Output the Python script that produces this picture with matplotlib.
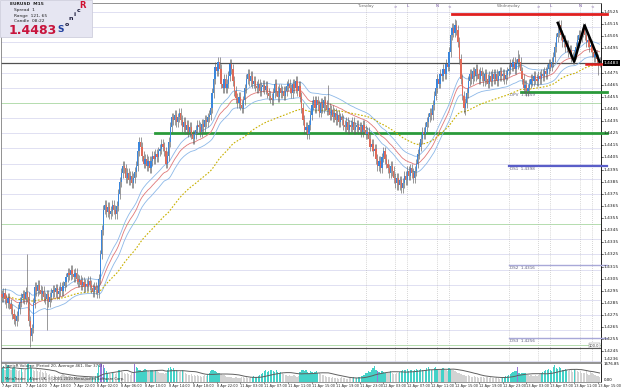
import matplotlib
matplotlib.use("Agg")
import matplotlib.pyplot as plt
import numpy as np
import pandas as pd

# EURUSD M15 - closes in pips above 1.4000
closes = [
    290, 293, 288, 285, 289, 284, 280, 276, 272, 270,
    274, 280, 286, 289, 292, 288, 294, 290, 270, 258,
    264, 285, 298, 295, 300, 296, 292, 295, 290, 288,
    292, 286, 290, 293, 296, 294, 297, 292, 295, 298,
    295, 299, 302, 306, 310, 308, 312, 309, 306, 310,
    305, 302, 304, 300, 302, 298, 301, 299, 303, 300,
    297, 294, 298, 296, 293, 305, 325, 345, 362, 366,
    360, 364, 358, 361, 366, 362, 358, 365, 375, 385,
    392, 398, 396, 388, 392, 386, 390, 384, 388, 393,
    398, 410, 418, 414, 406, 400, 404, 398, 402, 396,
    402, 406, 404, 408, 405, 410, 412, 416, 414, 410,
    400, 406, 418, 430, 438, 436, 440, 434, 438, 442,
    436, 430, 434, 428, 432, 426, 430, 424, 420, 424,
    428, 432, 430, 426, 433, 430, 436, 434, 438, 440,
    446, 458, 470, 480, 476, 484, 478, 466, 462, 470,
    462, 466, 472, 482, 478, 468, 460, 454, 450, 455,
    448, 446, 452, 462, 470, 474, 468, 472, 466, 468,
    464, 462, 466, 460, 463, 465, 461, 464, 458, 456,
    454, 452, 458, 466, 460, 455, 462, 458, 460, 456,
    460, 464, 466, 462, 458, 466, 462, 468, 460, 464,
    455, 446, 436, 428, 430, 424, 432, 440, 448, 452,
    446, 452, 448, 442, 450, 446, 452, 448, 444, 446,
    440, 444, 438, 442, 436, 440, 434, 438, 436, 432,
    430, 434, 428, 432, 430, 434, 428, 430, 432, 428,
    430, 426, 432, 428, 424, 426, 420, 414, 416, 410,
    412, 404, 398, 402, 396, 405, 410, 404, 400, 396,
    392, 398, 394, 388, 384, 388, 382, 386, 380, 384,
    390, 386, 394, 390, 396, 392, 388, 394, 400, 408,
    414, 420, 426, 424, 430, 434, 438, 442, 440, 448,
    456, 462, 470, 466, 474, 472, 478, 474, 482, 480,
    492, 506, 512, 508, 514, 510, 500, 486, 470, 456,
    446, 450, 458, 468, 474, 470, 476, 472, 478, 474,
    470, 476, 472, 468, 474, 470, 466, 472, 468, 474,
    470, 474, 468, 472, 476, 472, 474, 470, 473, 476,
    478, 482, 480, 484, 478, 482, 486, 484, 476, 470,
    462, 465, 460, 462, 466, 470, 468, 472, 470, 468,
    472, 470, 474, 472, 476, 474, 478, 482, 480, 484,
    488, 496, 504, 508, 514, 506, 500, 502, 496, 498,
    492, 494, 488, 486, 490, 496, 502, 506, 504, 508,
    512, 506, 500, 502, 496, 498, 492, 488, 490, 486,
    484, 483.8,
]
first_open = 292
spike_highs = {17: 325, 145: 487, 153: 485, 219: 465, 304: 519, 346: 494, 373: 517, 390: 514}
spike_lows = {19: 249, 30: 263, 110: 398, 128: 416, 205: 421, 265: 378, 311: 440, 352: 458, 382: 484, 400: 473}

volumes = [
    900, 1050, 820, 960, 1100, 880, 760, 940, 1000, 860,
    780, 700, 820, 900, 640, 760, 850, 1200, 1500, 1100,
    950, 800, 720, 860, 700, 640, 760, 680, 600, 720,
    560, 480, 520, 420, 380, 450, 400, 360, 420, 380,
    460, 520, 480, 400, 360, 420, 380, 320, 350, 300,
    280, 320, 260, 300, 340, 280, 250, 300, 270, 320,
    300, 350, 280, 420, 600, 1100, 1400, 1300, 1150, 900,
    700, 620, 560, 500, 640, 580, 520, 600, 760, 820,
    700, 640, 580, 520, 600, 540, 480, 560, 620, 1200,
    1000, 900, 820, 760, 700, 820, 880, 760, 700, 640,
    820, 760, 700, 800, 740, 680, 620, 560, 600, 540,
    600, 820, 950, 1000, 880, 900, 820, 760, 700, 640,
    720, 800, 700, 560, 520, 480, 440, 500, 420, 460,
    400, 440, 380, 420, 360, 400, 460, 380, 520, 600,
    720, 800, 760, 700, 640, 600, 560, 520, 480, 440,
    400, 360, 320, 300, 340, 280, 260, 300, 240, 280,
    260, 300, 340, 280, 320, 260, 240, 300, 340, 380,
    320, 360, 400, 440, 500, 620, 700, 760, 640, 700,
    760, 820, 700, 640, 760, 680, 600, 640, 560, 520,
    480, 440, 400, 460, 420, 380, 440, 400, 360, 420,
    640, 760, 820, 700, 760, 680, 620, 700, 640, 600,
    660, 700, 620, 580, 520, 480, 440, 400, 360, 320,
    300, 280, 320, 260, 240, 280, 220, 260, 300, 240,
    260, 220, 200, 240, 280, 260, 300, 240, 280, 320,
    340, 380, 420, 480, 560, 620, 700, 640, 760, 900,
    1050, 760, 700, 640, 600, 720, 680, 620, 560, 600,
    640, 700, 580, 540, 500, 620, 560, 680, 720, 760,
    800, 760, 840, 720, 800, 760, 700, 820, 880, 760,
    800, 860, 760, 700, 820, 900, 960, 880, 820, 760,
    900, 960, 860, 820, 760, 880, 920, 840, 780, 700,
    940, 880, 820, 760, 700, 640, 600, 560, 520, 480,
    460, 420, 380, 440, 400, 360, 320, 380, 340, 300,
    280, 320, 360, 300, 260, 340, 300, 280, 320, 260,
    240, 280, 300, 260, 220, 280, 300, 340, 380, 420,
    460, 520, 600, 640, 700, 740, 1000, 600, 520, 580,
    620, 560, 480, 440, 400, 460, 420, 380, 440, 400,
    460, 520, 580, 640, 720, 760, 820, 880, 760, 700,
    960, 1100, 900, 860, 1000, 900, 820, 760, 880, 800,
    720, 800, 760, 680, 880, 760, 700, 640, 720, 600,
    560, 620, 700, 520, 480, 640, 560, 500, 460, 420,
    380, 300,
]
climax_bars = [66, 67, 68, 89, 252, 346]

time_labels = [
    "7 Apr 2011", "7 Apr 14:00", "7 Apr 18:00", "7 Apr 22:00", "8 Apr 02:00",
    "8 Apr 06:00", "8 Apr 10:00", "8 Apr 14:00", "8 Apr 18:00", "8 Apr 22:00",
    "11 Apr 03:00", "11 Apr 07:00", "11 Apr 11:00", "11 Apr 15:00", "11 Apr 19:00",
    "11 Apr 23:00", "12 Apr 03:00", "12 Apr 07:00", "12 Apr 11:00", "12 Apr 15:00",
    "12 Apr 19:00", "12 Apr 23:00", "13 Apr 03:00", "13 Apr 07:00", "13 Apr 11:00",
    "13 Apr 15:00",
]
bars_per_label = 16

# day separators and session marks (bar index, text)
day_starts = [(244, "Tuesday"), (340, "Wednesday")]
session_marks = [(20, ">"), (28, "L"), (48, "N"), (56, "<")]

# levels
bid_price = 1.4483
yesterday_high = 1.4523
pivot_levels = [("DPV", 1.4459, "#2a9a3a", 2.0, 348), ("DS1", 1.4398, "#5a5ec8", 1.6, 340),
                ("DS2", 1.4316, "#a8a8d8", 1.0, 340), ("DS3", 1.4256, "#a8a8d8", 1.0, 340)]
pivot_label_bar = 340
murrey_base = 1.4250
murrey_step = 0.00125
green_level = 1.4425
green_start = 103

W, H = 625, 391


def fig_xy(x, y):
    return x / W, 1 - y / H


def desenhar():
    fig = plt.figure(figsize=(W / 100, H / 100), dpi=100)
    fig.patch.set_facecolor("white")

    ax = fig.add_axes([1 / W, 29 / H, 600 / W, 359 / H])
    axv = fig.add_axes([1 / W, 9 / H, 600 / W, 19 / H])

    n = len(closes)
    idx = np.arange(n)
    c = 1.4 + np.array(closes) / 10000.0
    o = np.concatenate([[1.4 + first_open / 10000.0], c[:-1]])
    wick = 0.0004
    hi = np.maximum(o, c) + wick
    lo = np.minimum(o, c) - wick
    for k, v in spike_highs.items():
        hi[k] = max(hi[k], 1.4 + v / 10000.0)
    for k, v in spike_lows.items():
        lo[k] = min(lo[k], 1.4 + v / 10000.0)

    ymin, ymax = 1.42363, 1.45324
    ax.set_xlim(-0.67, 402)
    ax.set_ylim(ymin, ymax)

    # Murrey math lines
    k = -1
    while True:
        lvl = murrey_base + k * murrey_step
        if lvl > ymax:
            break
        col = "#b4dcae" if k % 8 == 0 else "#e0e0f2"
        ax.axhline(lvl, color=col, lw=0.7, zorder=1)
        k += 1

    # day separators + session lines
    for d, name in day_starts:
        ax.axvline(d, color="#b0b0b0", lw=0.5, ls=(0, (1, 2)), zorder=1)
        x, y = fig_xy(2 + 1.49 * d, 6)
        fig.text(x, y, name, fontsize=3.0, color="#707070", ha="center", va="center")
        for off, m in session_marks:
            ax.axvline(d + off, color="#b0b0b0", lw=0.5, ls=(0, (1, 2)), zorder=1)
            x, y = fig_xy(2 + 1.49 * (d + off), 6)
            fig.text(x, y, m, fontsize=3.0, color="#7050a0", ha="center", va="center")

    ax.plot([green_start, 406], [green_level] * 2, color="#2a9a3a", lw=2.0, zorder=3, clip_on=False)
    ax.plot([302, 406], [yesterday_high] * 2, color="#e02020", lw=2.0, zorder=3, clip_on=False)
    ax.axhline(1.4248, color="#505050", lw=0.8, zorder=2)
    ax.axhline(bid_price, color="#505050", lw=0.9, zorder=2)
    ax.plot([392, 406], [bid_price - 0.00005] * 2, color="#e02020", lw=1.8, zorder=6, clip_on=False)

    for name, lvl, col, lw, start in pivot_levels:
        ax.plot([start, 406], [lvl] * 2, color=col, lw=lw, zorder=3, clip_on=False)
        ax.text(pivot_label_bar + 1, lvl - 0.00007, f"{name}  {lvl:.4f}", fontsize=3.0,
                color="#606080", va="top", ha="left", zorder=4)

    # Sonic R dragon and trend
    s = pd.Series(c)
    ema_h = pd.Series(hi).ewm(span=34, adjust=False).mean()
    ema_l = pd.Series(lo).ewm(span=34, adjust=False).mean()
    ema_c = s.ewm(span=34, adjust=False).mean()
    ema_t = s.ewm(span=89, adjust=False).mean()
    ax.plot(idx, ema_h, color="#8cb8e8", lw=0.6, zorder=4)
    ax.plot(idx, ema_l, color="#8cb8e8", lw=0.6, zorder=4)
    ax.plot(idx, ema_c, color="#e07878", lw=0.6, zorder=4)
    ax.plot(idx, ema_t, color="#c8b000", lw=0.8, ls=(0, (1.5, 1.5)), zorder=4)

    # candles
    up = c >= o
    ax.vlines(idx, lo, hi, color="#606060", lw=0.45, zorder=5)
    body = np.maximum(np.abs(c - o), 0.00004)
    ax.bar(idx[up], body[up], bottom=o[up], width=0.8, color="#3a86dc", lw=0, zorder=6)
    ax.bar(idx[~up], body[~up], bottom=c[~up], width=0.8, color="#e06a58", lw=0, zorder=6)

    # black W pattern
    ax.plot([373, 384, 391, 401], [1.4516, 1.4484, 1.4514, 1.4484], color="black", lw=1.8, zorder=7)

    for a in (ax, axv):
        a.set_xticks([])
        a.set_yticks([])
        for sp in a.spines.values():
            sp.set_color("#808080")
            sp.set_linewidth(0.6)
        a.spines["right"].set_color("black")

    # price labels
    for t in np.arange(1.4245, 1.4526, 0.0010):
        if abs(t - bid_price) < 0.0004:
            continue
        ax.plot([402, 403.5], [t, t], color="black", lw=0.4, clip_on=False)
        ax.text(404, t, f"{t:.4f}", fontsize=3.2, va="center", ha="left", color="#202020")
    ax.text(404, bid_price, f"{bid_price:.4f}", fontsize=3.2, va="center", ha="left", color="white",
            bbox=dict(boxstyle="square,pad=0.15", fc="black", ec="none"), zorder=8)
    ax.text(404, ymin + 0.00008, "1.4236", fontsize=3.2, va="bottom", ha="left", color="#202020")
    ax.text(401, 1.4248, "100.0", fontsize=2.6, va="bottom", ha="right", color="#404040",
            bbox=dict(boxstyle="square,pad=0.1", fc="white", ec="#808080", lw=0.3))

    # volume
    v = np.array(volumes, dtype=float)
    ma = pd.Series(v).rolling(20, min_periods=1).mean()
    cols = np.where(v >= ma, "#44d2c8", "#d3d3d3").astype(object)
    for b in climax_bars:
        cols[b] = "#9878d8"
    vtop = 1250
    axv.bar(idx, v, width=0.8, color=list(cols), lw=0)
    axv.plot(idx, ma, color="#606060", lw=0.7)
    axv.set_xlim(-0.67, 402)
    axv.set_ylim(0, vtop)
    axv.text(2, vtop * 0.97, "SonicR Volume (Period 20, Average 461, Bar 371)", fontsize=2.8,
             va="top", ha="left", color="#303030")
    axv.text(2, vtop * 0.03, "MetaTrader - Alpari UK, \u00a9 2001-2010 MetaQuotes Software Corp.",
             fontsize=2.6, va="bottom", ha="left", color="#303030")
    axv.text(404, vtop * 0.94, "1676.85", fontsize=2.8, va="center", ha="left")
    axv.text(404, vtop * 0.1, "0.00", fontsize=2.8, va="center", ha="left")

    # time axis
    for i, lab in enumerate(time_labels):
        b = i * bars_per_label
        axv.plot([b, b], [0, -vtop * 0.07], color="black", lw=0.4, clip_on=False)
        x, y = fig_xy(2 + 1.49 * b, 386.5)
        fig.text(x, y, lab, fontsize=2.5, ha="left", va="center", color="#202020")

    # info box top-left
    bx, by = fig_xy(0, 37)
    fig.patches.append(plt.Rectangle((bx, by), 92 / W, 37 / H, transform=fig.transFigure,
                                     fc="#e6e6f2", ec="#c8c8d8", lw=0.5, zorder=10))
    infos = [("EURUSD  M15", 10, 4, True), ("Spread  1", 14, 10, False),
             ("Range  121, 65", 14, 15.5, False), ("Candle  08:22", 14, 21, False)]
    for txt, x, y, bold in infos:
        fx, fy = fig_xy(x, y)
        fig.text(fx, fy, txt, fontsize=3.2, fontweight="bold" if bold else "normal",
                 va="center", ha="left", color="#202020", zorder=11)
    fx, fy = fig_xy(9, 30)
    fig.text(fx, fy, "1.4483", fontsize=9, fontweight="bold", color="#c8143c",
             va="center", ha="left", zorder=11)
    logo = [("S", 61, 29, 6.5, "#2040a0"), ("o", 67, 24, 4.5, "#202040"), ("n", 71, 19, 4.5, "#202040"),
            ("i", 75, 14, 4.5, "#202040"), ("c", 79, 10, 4.5, "#202040"), ("R", 83, 5, 6, "#d01030")]
    for ch, x, y, fs, col in logo:
        fx, fy = fig_xy(x, y)
        fig.text(fx, fy, ch, fontsize=fs, fontweight="bold", color=col, ha="center", va="center", zorder=11)

    fig.savefig("out.png", dpi=100)


def main():
    desenhar()


if __name__ == "__main__":
    main()
